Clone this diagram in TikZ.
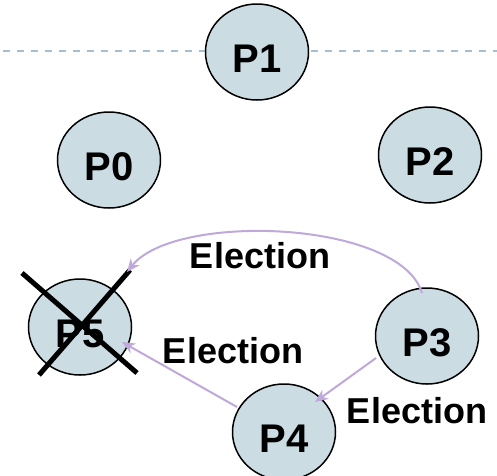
\documentclass[tikz,border=0pt]{standalone}
\usepackage{fontspec}
\setmainfont{Liberation Sans}
\usetikzlibrary{shapes.geometric,arrows.meta}
\definecolor{procfill}{HTML}{CBDDE3}
\definecolor{msg}{HTML}{BFA8DA}
\definecolor{dashc}{HTML}{A8BFD2}
\begin{document}
\begin{tikzpicture}[x=1pt,y=-1pt,
 proc/.style={ellipse, draw=black, line width=1.5pt, fill=procfill, minimum width=103pt, minimum height=96pt, inner sep=0pt, font=\fontsize{40}{40}\selectfont\bfseries, text height=40pt, text depth=0pt},
 lbl/.style={font=\fontsize{36}{36}\selectfont\bfseries, inner sep=0pt},
 msgarrow/.style={draw=msg, line width=2pt, -{Stealth[length=13pt,width=11pt,inset=4pt]}},
 cross/.style={line width=5pt, draw=black}]
\useasboundingbox (0,0) rectangle (497,475);
\coordinate (dl) at (3,51);
\coordinate (dr) at (497,51);
\draw[dashc, line width=2pt, dash pattern=on 7pt off 7pt] (dl) -- (dr);
\node[proc] (P1) at (257,52) {P1};
\node[proc] (P0) at (109,160) {P0};
\node[proc] (P2) at (430,155) {P2};
\node[proc] (P5) at (80,327) {P5};
\node[proc] (P3) at (427,336) {P3};
\node[proc] (P4) at (284,432) {P4};
% cross over P5
\coordinate (c1a) at (22,273);
\coordinate (c1b) at (137,373);
\coordinate (c2a) at (130,270);
\coordinate (c2b) at (39,375);
\draw[cross] (c1a) -- (c1b);
\draw[cross] (c2a) -- (c2b);
% messages
\coordinate (s35) at (422,293);
\coordinate (t35) at (127,272);
\draw[msgarrow] (s35) .. controls (400,220) and (175,212) .. (t35);
\coordinate (s34) at (376,358);
\coordinate (t34) at (315,402);
\draw[msgarrow] (s34) -- (t34);
\coordinate (s45) at (237,407);
\coordinate (t45) at (122,342);
\draw[msgarrow] (s45) -- (t45);
\node[lbl] (L1) at (260,256) {Election};
\node[lbl] (L2) at (233,351) {Election};
\node[lbl] (L3) at (417,411) {Election};
\end{tikzpicture}
\end{document}
